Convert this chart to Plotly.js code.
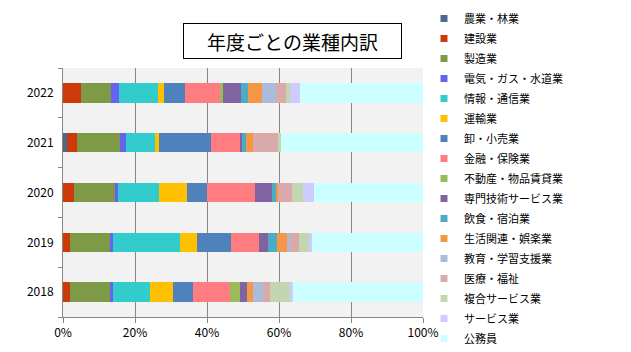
<!DOCTYPE html>
<html>
<head>
<meta charset="utf-8">
<script src="https://cdn.plot.ly/plotly-3.0.1.min.js"></script>
<style>html,body{margin:0;padding:0;background:#fff;}#chart{width:631px;height:352px;}</style>
</head>
<body>
<div id="chart"></div>
<script>
const years = ['2018', '2019', '2020', '2021', '2022'];
const industries = ['農業・林業', '建設業', '製造業', '電気・ガス・水道業', '情報・通信業', '運輸業', '卸・小売業', '金融・保険業', '不動産・物品賃貸業', '専門技術サービス業', '飲食・宿泊業', '生活関連・娯楽業', '教育・学習支援業', '医療・福祉', '複合サービス業', 'サービス業', '公務員'];
const colors = ['#4A6A8C', '#CC3A0A', '#7E9A47', '#6464F0', '#33CCCC', '#FFC000', '#4F81BD', '#FF7C80', '#9BBB59', '#8064A2', '#4BACC6', '#F79646', '#A9BCDA', '#DAA9AA', '#C4D6B0', '#CCCCFF', '#CCFFFF'];
const v2018 = [0, 1.9, 11.1, 0.8, 10.3, 6.4, 5.6, 10.3, 2.8, 1.9, 0, 1.7, 2.8, 1.9, 5.6, 0.8, 36.2];
const v2019 = [0, 1.9, 11.1, 0.8, 18.8, 4.5, 9.4, 7.8, 0, 2.5, 2.5, 2.8, 0.8, 2.5, 2.8, 0.8, 30.9];
const v2020 = [0, 3.0, 11.4, 0.8, 11.4, 7.8, 5.6, 13.3, 0, 4.7, 1.1, 0.8, 0, 3.9, 2.8, 3.1, 30.4];
const v2021 = [1.0, 2.8, 11.9, 1.9, 7.8, 1.1, 14.7, 7.8, 0, 0.7, 1.2, 1.9, 0, 6.9, 0.9, 0, 39.3];
const v2022 = [0, 4.9, 8.5, 2.0, 10.8, 1.9, 5.8, 9.6, 0.9, 5.0, 1.9, 3.9, 3.8, 2.8, 1.2, 2.8, 34.0];
const xTickVals = [0, 20, 40, 60, 80, 100];
const xTickText = ['0%', '20%', '40%', '60%', '80%', '100%'];
const chartTitle = '年度ごとの業種内訳';

const byYear = [v2018, v2019, v2020, v2021, v2022];
const traces = [];
industries.forEach((name, i) => {
  traces.push({
    type: 'bar', orientation: 'h', name: name,
    y: years, x: byYear.map(v => v[i]),
    marker: {color: colors[i], line: {width: 0}},
    showlegend: false, hoverinfo: 'name+x'
  });
});
industries.forEach((name, i) => {
  traces.push({
    type: 'scatter', mode: 'markers', name: name,
    x: [null], y: [null],
    marker: {symbol: 'square', size: 7, color: colors[i]},
    legendgroup: 'g' + i, showlegend: true
  });
});

const layout = {
  width: 631, height: 352,
  margin: {l: 63, r: 208, t: 68, b: 35},
  paper_bgcolor: '#ffffff', plot_bgcolor: '#f2f2f2',
  font: {family: '"Noto Sans CJK JP", "Noto Sans", sans-serif', size: 11, color: '#000'},
  barmode: 'stack', barnorm: 'percent', bargap: 0.61,
  xaxis: {
    range: [0, 100], tickmode: 'array', tickvals: xTickVals, ticktext: xTickText,
    showgrid: true, gridcolor: '#878787', gridwidth: 1,
    showline: true, linecolor: '#878787', linewidth: 1,
    ticks: 'outside', ticklen: 5, tickcolor: '#878787',
    zeroline: false, fixedrange: true,
    tickfont: {family: '"Noto Sans CJK JP", sans-serif', size: 12}
  },
  yaxis: {
    type: 'category', categoryorder: 'array', categoryarray: years,
    range: [-0.5, 4.5],
    showline: true, linecolor: '#878787', linewidth: 1,
    ticks: 'outside', ticklen: 4, tickcolor: '#878787', tickson: 'boundaries',
    showgrid: false, zeroline: false, fixedrange: true,
    ticklabelstandoff: 6,
    tickfont: {family: '"Noto Sans CJK JP", sans-serif', size: 12}
  },
  legend: {
    xref: 'container', yref: 'container',
    x: 424 / 631, y: 1 - 4 / 352, xanchor: 'left', yanchor: 'top',
    traceorder: 'grouped', tracegroupgap: 1, maxheight: 1,
    font: {family: '"Noto Sans CJK JP", sans-serif', size: 11, color: '#000'},
    bgcolor: 'rgba(0,0,0,0)', borderwidth: 0, itemwidth: 30
  },
  annotations: [{
    text: chartTitle, showarrow: false,
    xref: 'paper', yref: 'paper',
    x: (292.5 - 63) / 360, y: (317 - 41.3) / 249,
    xanchor: 'center', yanchor: 'middle',
    width: 213, height: 30, borderpad: 2,
    bordercolor: '#000', borderwidth: 1, bgcolor: '#fff',
    font: {family: '"Noto Sans CJK JP", sans-serif', size: 19, color: '#000'}
  }],
  showlegend: true
};

Plotly.newPlot('chart', traces, layout, {displayModeBar: false, staticPlot: true});
</script>
</body>
</html>
